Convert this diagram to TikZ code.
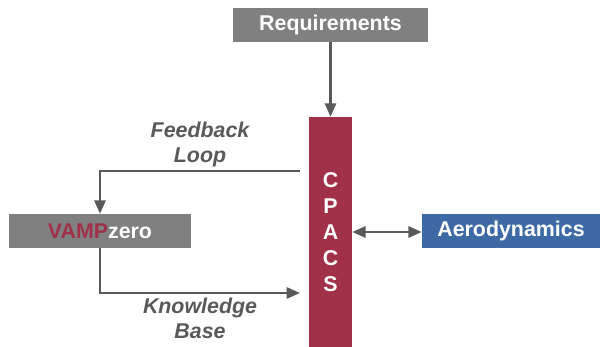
\documentclass[tikz,border=0pt]{standalone}
\usepackage{fontspec}
\setmainfont{Liberation Sans}
\usepackage{tikz}
\usetikzlibrary{
        arrows.meta,
        positioning
    }
\definecolor{cpacsred}{RGB}{161,48,73}
\definecolor{aeroblue}{RGB}{61,106,165}
\definecolor{boxgray}{RGB}{128,128,128}
\definecolor{linegray}{RGB}{89,89,89}

\begin{document}
\begin{tikzpicture}
[x=0.025cm, y=-0.025cm,
baseshape/.style={rectangle, inner sep=0pt, text centered, text=white, font=\fontsize{15.2}{18}\selectfont\bfseries},
greybox/.style={baseshape, fill=boxgray, minimum height=0.85cm},
datamodel/.style={baseshape, fill=cpacsred, align=center, minimum width=1.075cm, minimum height=5.75cm, font=\fontsize{15.2}{18.4}\selectfont\bfseries},
discipline/.style={baseshape, fill=aeroblue, minimum height=0.825cm},
looplabel/.style={align=center, text=linegray, inner sep=2pt, font=\fontsize{15.2}{17.7}\selectfont\bfseries\itshape},
arrow/.style={draw=linegray, line width=1.6pt, -{Triangle[length=9.5pt, width=8pt]}},
twoway/.style={arrow, {Triangle[length=9.5pt, width=8pt]}-{Triangle[length=9.5pt, width=8pt]}},
]
    \useasboundingbox (0,0) rectangle (600,347);
    \node (req) [greybox, minimum width=4.875cm] at (330.5,25) {Requirements};
    \node (cpacs) [datamodel] at (330.5,232) {C\\P\\A\\C\\S};
    \node (vamp) [greybox, minimum width=4.55cm] at (100,231) {\textcolor{cpacsred}{VAMP}zero};
    \node (aero) [discipline, minimum width=4.45cm] at (511,231) {Aerodynamics};
    \coordinate (fb) at (300,171);
    \coordinate (kb) at (300,293);
    \draw[arrow] (req) -- (cpacs);
    \draw[arrow] (fb) -| node[pos=0.25, above, looplabel] {Feedback\\Loop} (vamp);
    \draw[arrow] (vamp) |- node[pos=0.75, below, looplabel, yshift=-1pt] {Knowledge\\Base} (kb);
    \draw[twoway] (cpacs.east) -- (cpacs.east -| aero.west);
\end{tikzpicture}
\end{document}
